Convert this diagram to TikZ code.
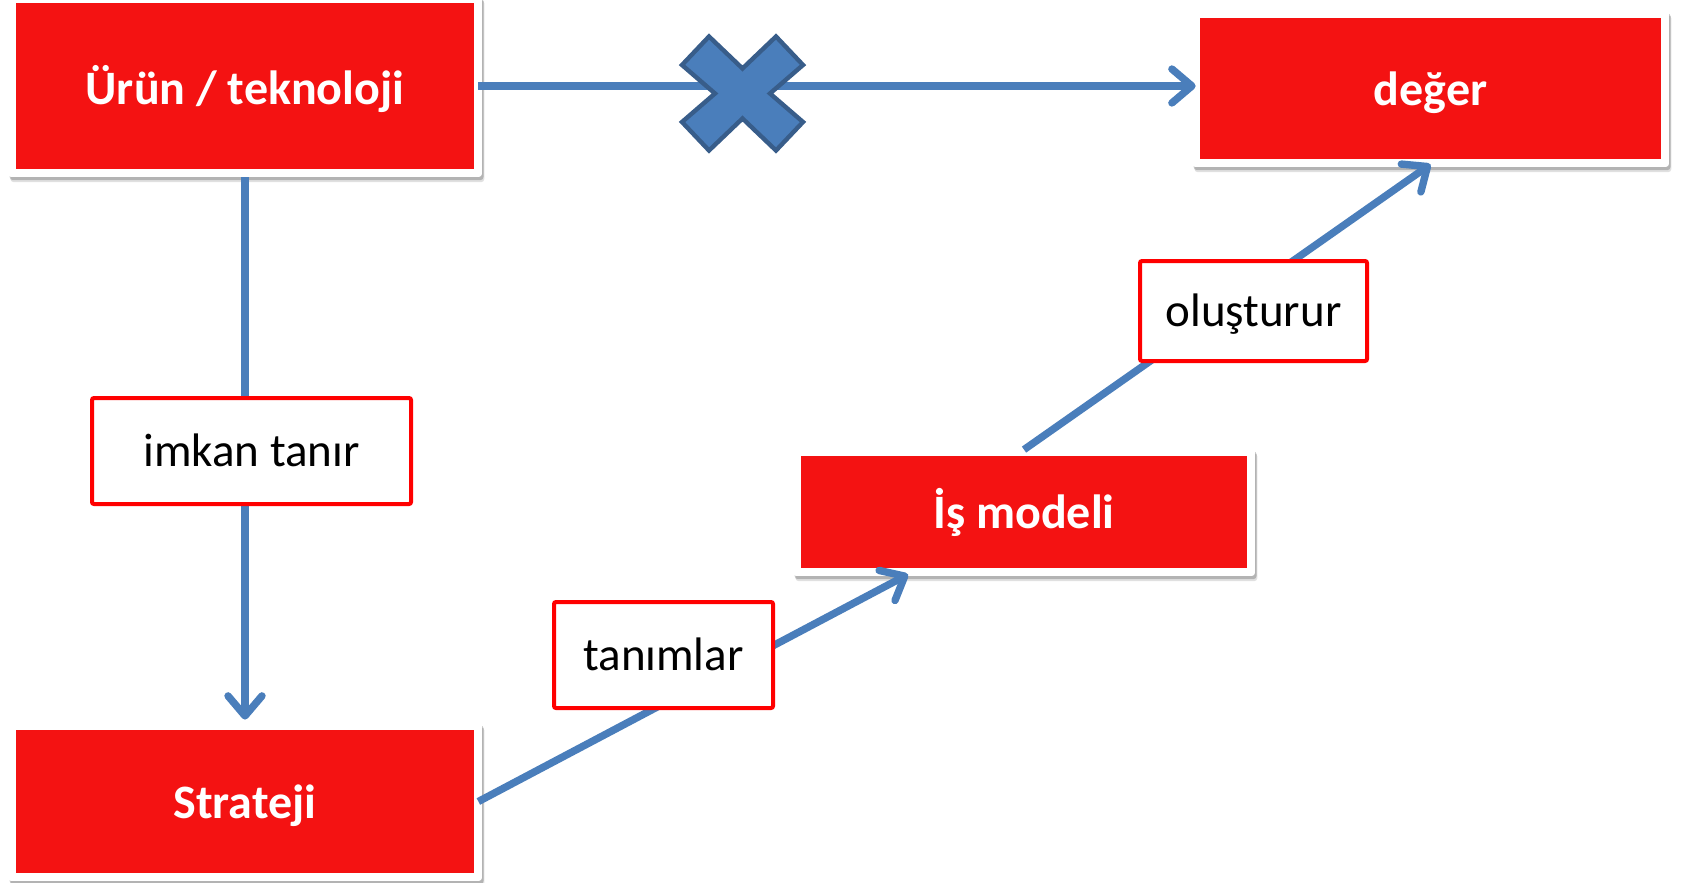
\documentclass[tikz,border=0pt]{standalone}
\usepackage{fontspec}
\setmainfont{Carlito}
\usetikzlibrary{arrows.meta,shadows,calc}
\definecolor{boxred}{RGB}{244,18,18}
\definecolor{arrowblue}{RGB}{74,126,187}
\definecolor{crossedge}{RGB}{56,93,138}
\pgfdeclarelayer{background}
\pgfsetlayers{background,main}
\tikzset{
  mainbox/.style={fill=boxred, text=white, font=\fontsize{24pt}{28pt}\selectfont\bfseries, inner sep=0pt, text height=16.5pt, text depth=0pt},
  frame/.style={fill=white, rounded corners=1.5pt,
    general shadow={shadow xshift=1.2pt, shadow yshift=-2.6pt, fill=black, opacity=0.12},
    general shadow={shadow xshift=0.8pt, shadow yshift=-1.6pt, fill=black, opacity=0.2}},
  labelbox/.style={draw=red, fill=white, line width=2pt, text=black, font=\fontsize{23.5pt}{28pt}\selectfont, inner sep=0pt, rounded corners=1pt, text height=15.8pt, text depth=0pt},
  flow/.style={draw=arrowblue, line width=3.7pt, -{Straight Barb[length=10pt,width=17pt,line cap=round,line join=round]}},
  crossshape/.style={fill=arrowblue, draw=crossedge, line width=2.2pt, line join=miter},
}
\begin{document}
\begin{tikzpicture}[x=0.5pt, y=-0.5pt]
\useasboundingbox (0,0) rectangle (1686,883);
% main boxes
\node[mainbox, minimum width=229pt, minimum height=83pt, text height=18.5pt] (uru) at (245,86) {Ürün / teknoloji};
\node[mainbox, minimum width=230.5pt, minimum height=70.5pt] (deger) at (1430.5,88.5) {değer};
\node[mainbox, minimum width=223pt, minimum height=56pt] (is) at (1024,512) {İş modeli};
\node[mainbox, minimum width=229pt, minimum height=71.5pt] (strat) at (245,801.5) {Strateji};
\begin{pgfonlayer}{background}
  \foreach \n in {uru,deger,is,strat}
    \path[frame] ([shift={(-3.75pt,3.75pt)}]\n.north west) rectangle ([shift={(3.75pt,-3.75pt)}]\n.south east);
\end{pgfonlayer}
% connectors
\draw[flow] ([xshift=2pt]uru.east) -- ([xshift=-2pt]uru.east -| deger.west);
\draw[flow] ([yshift=-4pt]uru.south) -- ([yshift=5pt]strat.north);
\draw[flow] ([xshift=2pt]strat.east) -- ([xshift=-58pt,yshift=-3pt]is.south);
\draw[flow] ([yshift=3pt]is.north) -- ([yshift=-2.5pt]deger.south);
% cross
\coordinate (xc) at (742.5,93.5);
\draw[crossshape] ($(xc)+(-60.5,-28.5)$) -- ($(xc)+(-33.5,-57)$) -- ($(xc)+(0,-25)$) -- ($(xc)+(33.5,-57)$) -- ($(xc)+(60.5,-28.5)$) -- ($(xc)+(27.5,0)$) -- ($(xc)+(60.5,28.5)$) -- ($(xc)+(33.5,57)$) -- ($(xc)+(0,25)$) -- ($(xc)+(-33.5,57)$) -- ($(xc)+(-60.5,28.5)$) -- ($(xc)+(-27.5,0)$) -- cycle;
% label boxes
\node[labelbox, minimum width=159.5pt, minimum height=53pt] (imkan) at (251.5,451) {imkan tanır};
\node[labelbox, minimum width=109.5pt, minimum height=53pt] (tanim) at (663.5,655) {tanımlar};
\node[labelbox, minimum width=113.5pt, minimum height=50pt] (olus) at (1253.5,311) {oluşturur};
\end{tikzpicture}
\end{document}
